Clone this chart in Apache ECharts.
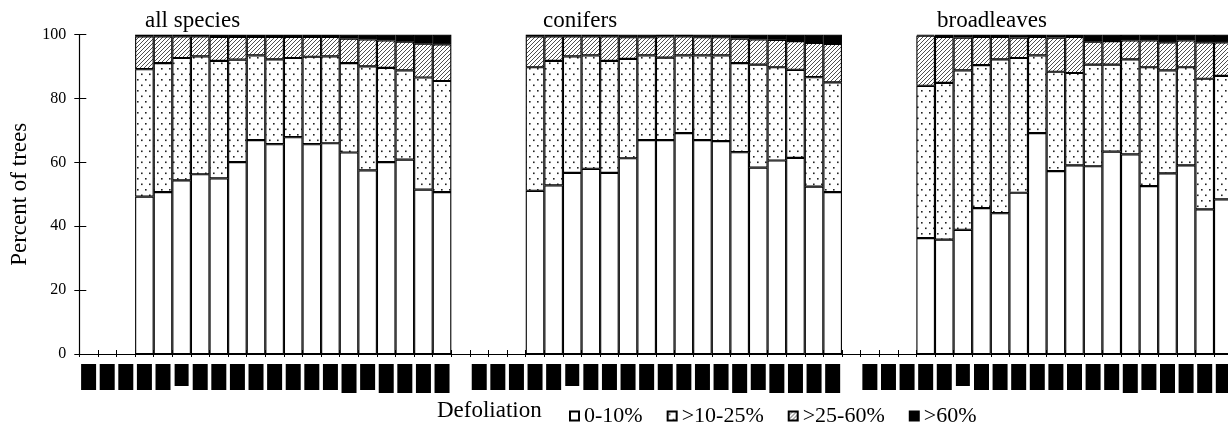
<!DOCTYPE html>
<html>
<head>
<meta charset="utf-8">
<script src="https://cdn.jsdelivr.net/npm/echarts@6/dist/echarts.min.js"></script>
<style>
html,body{margin:0;padding:0;background:#fff;overflow:hidden;width:1228px;height:430px;}
#chart{width:1240px;height:430px;}
</style>
</head>
<body>
<div id="chart"></div>
<script>
// ---------- DATA ----------
const groupNames = ['all species', 'conifers', 'broadleaves'];
const years = ['1987','1988','1989','1990','1991','1992','1993','1994','1995','1996',
               '1997','1998','1999','2000','2001','2002','2003','2004','2005','2006'];
const seriesNames = ['0-10%', '>10-25%', '>25-60%', '>60%'];
const yTicks = [0, 20, 40, 60, 80, 100];

// all species (17 bars, first 3 years empty)
const allSpecies_0_10  = [49.3, 50.7, 54.4, 56.3, 55.0, 60.1, 67.0, 65.7, 67.9, 65.7, 66.0, 63.1, 57.5, 60.1, 60.9, 51.5, 50.7];
const allSpecies_10_25 = [39.9, 40.4, 38.3, 36.9, 36.8, 32.1, 26.5, 26.6, 24.8, 27.4, 27.2, 28.0, 32.6, 29.5, 27.9, 35.1, 34.8];
const allSpecies_25_60 = [10.3,  8.4,  6.8,  6.3,  7.5,  7.1,  5.8,  7.0,  6.6,  6.2,  6.1,  7.7,  8.4,  8.6,  9.0, 10.6, 11.5];
const allSpecies_60    = [ 0.5,  0.5,  0.5,  0.5,  0.7,  0.7,  0.7,  0.7,  0.7,  0.7,  0.7,  1.2,  1.5,  1.8,  2.2,  2.8,  3.0];

// conifers
const conifers_0_10  = [51.1, 52.8, 56.7, 58.0, 56.7, 61.3, 67.0, 67.0, 69.2, 67.0, 66.7, 63.2, 58.4, 60.6, 61.4, 52.4, 50.7];
const conifers_10_25 = [38.7, 39.0, 36.5, 35.5, 35.1, 31.1, 26.5, 25.8, 24.3, 26.5, 26.8, 27.9, 32.2, 29.2, 27.6, 34.3, 34.4];
const conifers_25_60 = [ 9.7,  7.7,  6.3,  6.0,  7.7,  6.8,  5.7,  6.7,  6.0,  5.7,  5.7,  7.7,  7.9,  8.6,  9.0, 10.7, 12.0];
const conifers_60    = [ 0.5,  0.5,  0.5,  0.5,  0.5,  0.8,  0.8,  0.5,  0.5,  0.8,  0.8,  1.2,  1.5,  1.6,  2.0,  2.6,  2.9];

// broadleaves
const broadleaves_0_10  = [36.3, 35.8, 38.9, 45.7, 44.1, 50.5, 69.2, 57.3, 59.1, 58.8, 63.4, 62.5, 52.6, 56.6, 59.1, 45.3, 48.4];
const broadleaves_10_25 = [47.7, 49.1, 49.9, 44.8, 48.2, 42.2, 24.3, 31.1, 28.9, 31.8, 27.2, 29.8, 37.2, 32.2, 30.7, 40.9, 38.7];
const broadleaves_25_60 = [15.7, 14.4, 10.3,  8.8,  7.0,  6.4,  5.8, 10.7, 11.3,  7.2,  7.4,  5.9,  8.4,  8.8,  8.4, 11.4, 10.5];
const broadleaves_60    = [ 0.3,  0.7,  0.9,  0.7,  0.7,  0.9,  0.7,  0.9,  0.7,  2.2,  2.0,  1.8,  1.8,  2.4,  1.8,  2.4,  2.4];

// ---------- BUILD ----------
const emptyYears = years.length - allSpecies_0_10.length; // leading years without data
const categories = [...years, '', ...years, '', ...years];
function combine(a, b, c) {
  const lead = new Array(emptyYears).fill(null);
  return [...lead, ...a, null, ...lead, ...b, null, ...lead, ...c];
}
const seriesData = [
  combine(allSpecies_0_10,  conifers_0_10,  broadleaves_0_10),
  combine(allSpecies_10_25, conifers_10_25, broadleaves_10_25),
  combine(allSpecies_25_60, conifers_25_60, broadleaves_25_60),
  combine(allSpecies_60,    conifers_60,    broadleaves_60)
];

// patterns
function dotPattern() {
  const c = document.createElement('canvas');
  c.width = 8; c.height = 11;
  const g = c.getContext('2d');
  g.fillStyle = '#fff'; g.fillRect(0, 0, 8, 11);
  g.fillStyle = '#222';
  g.fillRect(1, 2, 1.6, 1.6);
  g.fillRect(5, 7.5, 1.6, 1.6);
  return c;
}
function hatchPattern() {
  const s = 4;
  const c = document.createElement('canvas');
  c.width = s; c.height = s;
  const g = c.getContext('2d');
  g.fillStyle = '#fff'; g.fillRect(0, 0, s, s);
  g.strokeStyle = '#3a3a3a'; g.lineWidth = 0.9;
  g.beginPath();
  g.moveTo(-1, s + 1); g.lineTo(s + 1, -1);
  g.moveTo(-1, 1); g.lineTo(1, -1);
  g.moveTo(s - 1, s + 1); g.lineTo(s + 1, s - 1);
  g.stroke();
  return c;
}
const fills = [
  '#ffffff',
  { image: dotPattern(), repeat: 'repeat' },
  { image: hatchPattern(), repeat: 'repeat' },
  '#000000'
];

const serif = 'Liberation Serif';
// label box variants (purely visual)
function labelStyleFor(idxInGroup) {
  if (idxInGroup === 5) return 's';
  if (idxInGroup === 14 || idxInGroup >= 16) return 'l';
  return 'n';
}

const chart = echarts.init(document.getElementById('chart'), null, { renderer: 'canvas' });

const gridTop = 34.7, gridH = 319.3, gridLeft = 79.3, gridW = 1153.3;

const option = {
  animation: false,
  backgroundColor: '#fff',
  title: [
    { text: groupNames[0], left: 145, top: 9, padding: 0, textStyle: { fontFamily: serif, fontSize: 23, fontWeight: 'normal', color: '#000' } },
    { text: groupNames[1], left: 543, top: 9, padding: 0, textStyle: { fontFamily: serif, fontSize: 23, fontWeight: 'normal', color: '#000' } },
    { text: groupNames[2], left: 937, top: 9, padding: 0, textStyle: { fontFamily: serif, fontSize: 23, fontWeight: 'normal', color: '#000' } }
  ],
  graphic: [
    { type: 'text', left: 437, top: 399, style: { text: 'Defoliation', font: '23px "Liberation Serif"', fill: '#000' } }
  ],
  legend: {
    data: seriesNames,
    left: 569, top: 405,
    itemWidth: 9, itemHeight: 9, itemGap: 24,
    icon: 'rect',
    padding: 0,
    textStyle: { fontFamily: serif, fontSize: 22, color: '#000', padding: [0, 0, 0, 0] }
  },
  grid: { left: gridLeft, top: gridTop, width: gridW, height: gridH, containLabel: false },
  xAxis: [
    {
      type: 'category',
      data: categories,
      boundaryGap: true,
      axisLine: { lineStyle: { color: '#000', width: 1.2 } },
      axisTick: { show: true, interval: 0, length: 3, lineStyle: { color: '#000', width: 1 } },
      axisLabel: {
        interval: 0, rotate: 90, margin: 10,
        formatter: function (val, idx) {
          if (val === '') return '';
          const k = idx % 21;
          return '{' + labelStyleFor(k) + '|' + val + '}';
        },
        rich: {
          n: { fontFamily: serif, fontSize: 12, lineHeight: 15, color: '#000', backgroundColor: '#000', padding: [1.5, 1, 1.5, 1] },
          s: { fontFamily: serif, fontSize: 11, lineHeight: 15, color: '#000', backgroundColor: '#000', padding: [1.5, 0, 1.5, 0] },
          l: { fontFamily: serif, fontSize: 12, lineHeight: 15, color: '#000', backgroundColor: '#000', padding: [1.5, 1, 1.5, 4] }
        }
      },
      splitLine: { show: false }
    },
    {
      type: 'category',
      data: categories,
      position: 'bottom',
      boundaryGap: true,
      axisLine: { show: false },
      axisTick: { show: true, inside: true, interval: 0, length: 4, lineStyle: { color: '#000', width: 1 } },
      axisLabel: { show: false },
      splitLine: { show: false }
    }
  ],
  yAxis: [
    {
      type: 'value', min: yTicks[0], max: yTicks[yTicks.length - 1], interval: yTicks[1] - yTicks[0],
      name: 'Percent of trees',
      nameLocation: 'middle', nameRotate: 90, nameGap: 48,
      nameTextStyle: { fontFamily: serif, fontSize: 23, color: '#000' },
      axisLine: { show: true, lineStyle: { color: '#000', width: 1.2 } },
      axisTick: { show: true, length: 5, lineStyle: { color: '#000', width: 1 } },
      axisLabel: { fontFamily: serif, fontSize: 16, color: '#000', margin: 13 },
      splitLine: { show: false }
    },
    {
      type: 'value', min: yTicks[0], max: yTicks[yTicks.length - 1], interval: yTicks[1] - yTicks[0],
      position: 'left',
      axisLine: { show: false },
      axisTick: { show: true, inside: true, length: 7, lineStyle: { color: '#000', width: 1 } },
      axisLabel: { show: false },
      splitLine: { show: false }
    }
  ],
  series: seriesNames.map((name, i) => ({
    name: name,
    type: 'bar',
    stack: 'total',
    xAxisIndex: 0, yAxisIndex: 0,
    barCategoryGap: '0%',
    barWidth: '100%',
    data: seriesData[i],
    itemStyle: { color: fills[i], borderColor: '#000', borderWidth: 1.1 },
    emphasis: { disabled: true }
  }))
};
chart.setOption(option);
</script>
</body>
</html>
